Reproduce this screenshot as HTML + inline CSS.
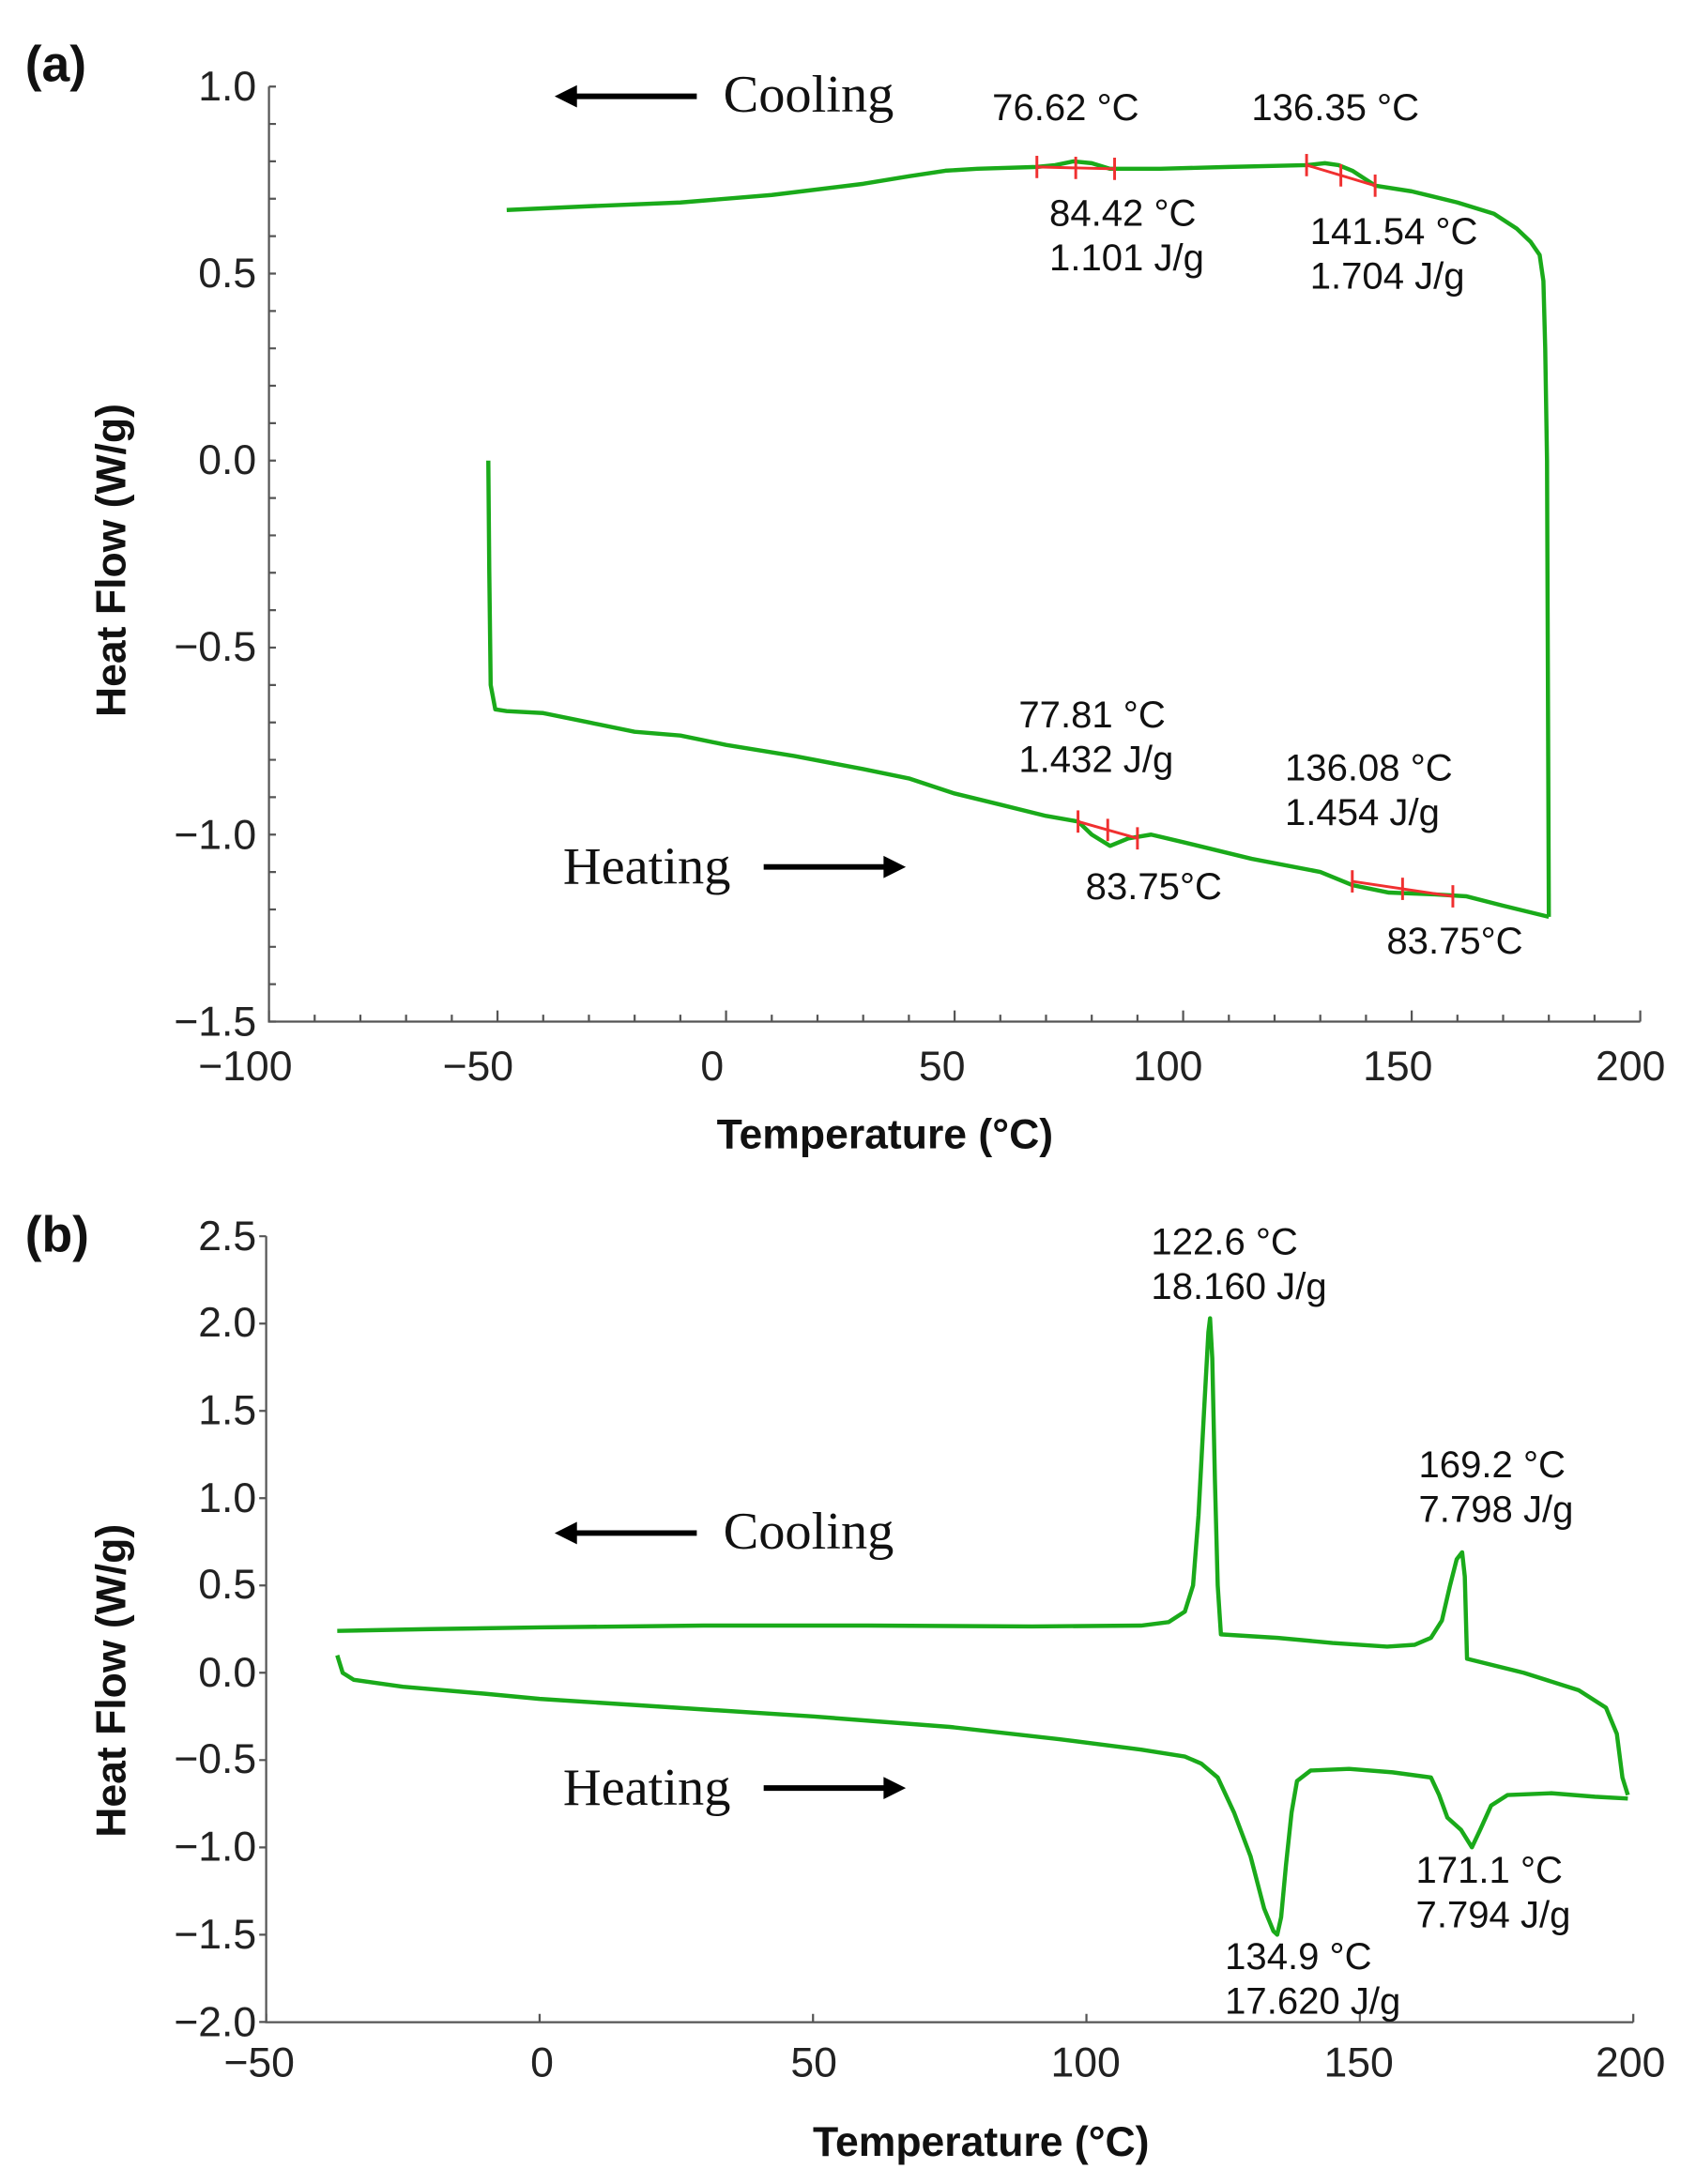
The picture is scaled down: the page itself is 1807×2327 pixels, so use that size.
<!DOCTYPE html>
<html><head><meta charset="utf-8"><style>
html,body{margin:0;padding:0;background:#fff;}
svg{display:block;}
.tk{font-family:"Liberation Sans",sans-serif;font-size:30px;fill:#222;}
.an{font-family:"Liberation Sans",sans-serif;font-size:27px;fill:#111;}
.ser{font-family:"Liberation Serif",serif;font-size:38px;fill:#111;}
.ti{font-family:"Liberation Sans",sans-serif;font-size:30px;font-weight:bold;fill:#111;}
.pl{font-family:"Liberation Sans",sans-serif;font-size:36px;font-weight:bold;fill:#111;}
</style></head><body>
<svg id="s" width="1807" height="2327" viewBox="0 0 1217 1567" xmlns="http://www.w3.org/2000/svg">
<text class="pl" x="18" y="58">(a)</text>
<text class="pl" x="18" y="898">(b)</text>
<g id="axA" stroke="#555" stroke-width="1.5" fill="none"></g>
<g id="axB" stroke="#555" stroke-width="1.5" fill="none"></g>
<g id="cur" fill="none" stroke="#1aaa1a" stroke-width="3" stroke-linejoin="round"></g>
<g id="red" fill="none" stroke="#f03030" stroke-width="2"></g>
<g text-anchor="end" class="tk">
<text x="184" y="72">1.0</text><text x="184" y="206">0.5</text><text x="184" y="340">0.0</text>
<text x="184" y="474">−0.5</text><text x="184" y="609">−1.0</text><text x="184" y="743">−1.5</text>
<text x="184" y="897">2.5</text><text x="184" y="959">2.0</text><text x="184" y="1022">1.5</text>
<text x="184" y="1085">1.0</text><text x="184" y="1147">0.5</text><text x="184" y="1210">0.0</text>
<text x="184" y="1272">−0.5</text><text x="184" y="1335">−1.0</text><text x="184" y="1398">−1.5</text>
<text x="184" y="1461">−2.0</text>
</g>
<g text-anchor="middle" class="tk">
<text x="176" y="775">−100</text><text x="343" y="775">−50</text><text x="511" y="775">0</text>
<text x="676" y="775">50</text><text x="838" y="775">100</text><text x="1003" y="775">150</text><text x="1170" y="775">200</text>
<text x="186" y="1490">−50</text><text x="389" y="1490">0</text><text x="584" y="1490">50</text>
<text x="779" y="1490">100</text><text x="975" y="1490">150</text><text x="1170" y="1490">200</text>
</g>
<text class="ti" x="635" y="824" text-anchor="middle">Temperature (°C)</text>
<text class="ti" x="704" y="1547" text-anchor="middle">Temperature (°C)</text>
<text class="ti" transform="translate(90,402) rotate(-90)" text-anchor="middle">Heat Flow (W/g)</text>
<text class="ti" transform="translate(90,1206) rotate(-90)" text-anchor="middle">Heat Flow (W/g)</text>
<g class="ser">
<text x="519" y="80">Cooling</text><text x="404" y="634">Heating</text>
<text x="519" y="1111">Cooling</text><text x="404" y="1295">Heating</text>
</g>
<g stroke="#000" stroke-width="4">
<line x1="412" y1="69" x2="500" y2="69"/><line x1="548" y1="622" x2="636" y2="622"/>
<line x1="412" y1="1100" x2="500" y2="1100"/><line x1="548" y1="1283" x2="636" y2="1283"/>
</g>
<g fill="#000">
<polygon points="398,69 414,61 414,77"/><polygon points="650,622 634,614 634,630"/>
<polygon points="398,1100 414,1092 414,1108"/><polygon points="650,1283 634,1275 634,1291"/>
</g>
<g class="an">
<text x="712" y="86">76.62 °C</text><text x="898" y="86">136.35 °C</text>
<text x="753" y="162">84.42 °C</text><text x="753" y="194">1.101 J/g</text>
<text x="940" y="175">141.54 °C</text><text x="940" y="207">1.704 J/g</text>
<text x="731" y="522">77.81 °C</text><text x="731" y="554">1.432 J/g</text>
<text x="922" y="560">136.08 °C</text><text x="922" y="592">1.454 J/g</text>
<text x="779" y="645">83.75°C</text><text x="995" y="684">83.75°C</text>
<text x="826" y="900">122.6 °C</text><text x="826" y="932">18.160 J/g</text>
<text x="1018" y="1060">169.2 °C</text><text x="1018" y="1092">7.798 J/g</text>
<text x="1016" y="1351">171.1 °C</text><text x="1016" y="1383">7.794 J/g</text>
<text x="879" y="1413">134.9 °C</text><text x="879" y="1445">17.620 J/g</text>
</g>
</svg>
<script>
var NS="http://www.w3.org/2000/svg";
function el(p,t,a){var e=document.createElementNS(NS,t);for(var k in a)e.setAttribute(k,a[k]);document.getElementById(p).appendChild(e);return e;}
var xa=function(T){return 193+(T+100)*3.28;}, ya=function(v){return 62+(1-v)*268.4;};
var xb=function(T){return 191+(T+50)*3.924;}, yb=function(v){return 887+(2.5-v)*125.3;};
el("axA","path",{d:"M193 62 V733 H1177"});
el("axB","path",{d:"M191 887 V1451 H1172"});
var d="";
for(var v=1;v>=-1.5001;v-=0.1){var y=ya(v);d+="M193 "+y+" h5 ";}
for(var T=-100;T<=200.01;T+=10){var x=xa(T);d+="M"+x+" 733 v-"+((Math.round(T)%50==0)?8:5)+" ";}
el("axA","path",{d:d});
d="";
for(var v=2.5;v>=-2.0001;v-=0.5){d+="M191 "+yb(v)+" h-5 ";}
for(var T=-50;T<=200.01;T+=50){d+="M"+xb(T)+" 1451 v-6 ";}
el("axB","path",{d:d});
function path(pts,fx,fy){var s="";pts.forEach(function(p,i){s+=(i?"L":"M")+fx(p[0]).toFixed(1)+" "+fy(p[1]).toFixed(1)+" ";});return s;}
var coolA=[[-48,0.67],[-30,0.68],[-10,0.69],[10,0.71],[30,0.74],[40,0.76],[48,0.775],[55,0.78],[68,0.785],[72,0.79],[76,0.80],[80,0.795],[84,0.78],[95,0.78],[110,0.785],[127,0.79],[131,0.795],[134,0.79],[137,0.775],[142,0.735],[150,0.72],[160,0.69],[168,0.66],[173,0.62],[176,0.585],[178,0.55],[178.8,0.48],[179.2,0.3],[179.6,0.0],[180,-1.22]];
var heatA=[[-52,0.0],[-51.8,-0.3],[-51.5,-0.6],[-50.5,-0.665],[-48,-0.67],[-40,-0.675],[-30,-0.70],[-20,-0.725],[-10,-0.735],[0,-0.76],[15,-0.79],[30,-0.825],[40,-0.85],[50,-0.89],[60,-0.92],[70,-0.95],[77,-0.965],[80,-1.0],[84,-1.03],[88,-1.01],[93,-1.0],[100,-1.02],[115,-1.065],[130,-1.10],[137,-1.135],[145,-1.155],[155,-1.16],[162,-1.165],[170,-1.19],[180,-1.22]];
var coolB=[[-37,0.24],[-20,0.25],[0,0.26],[30,0.27],[60,0.27],[90,0.265],[110,0.27],[115,0.29],[118,0.35],[119.5,0.5],[120.5,0.9],[121.5,1.5],[122.3,1.95],[122.6,2.03],[123,1.8],[123.5,1.1],[124,0.5],[124.6,0.22],[135,0.2],[145,0.17],[155,0.15],[160,0.16],[163,0.2],[165,0.3],[166.5,0.5],[167.7,0.65],[168.7,0.69],[169.2,0.55],[169.6,0.08],[180,0.0],[190,-0.1],[195,-0.2],[197,-0.35],[198,-0.6],[199,-0.7]];
var heatB=[[-37,0.1],[-36,0.0],[-34,-0.04],[-25,-0.08],[-10,-0.12],[0,-0.15],[25,-0.2],[50,-0.25],[75,-0.31],[95,-0.38],[110,-0.44],[118,-0.48],[121,-0.52],[124,-0.6],[127,-0.8],[130,-1.05],[132.5,-1.35],[134.2,-1.48],[134.9,-1.5],[135.6,-1.4],[136.5,-1.1],[137.5,-0.8],[138.5,-0.62],[141,-0.56],[148,-0.55],[156,-0.57],[163,-0.6],[164.5,-0.7],[166,-0.83],[168.5,-0.9],[170.5,-1.0],[172,-0.9],[174,-0.76],[177,-0.7],[185,-0.69],[193,-0.71],[199,-0.72]];
el("cur","path",{d:path(coolA,xa,ya)});
el("cur","path",{d:path(heatA,xa,ya)});
el("cur","path",{d:path(coolB,xb,yb)});
el("cur","path",{d:path(heatB,xb,yb)});
var r=[[68,0.785,85,0.78],[127,0.79,142,0.735],[77,-0.965,90,-1.01],[137,-1.125,159,-1.165]];
r.forEach(function(a){var x1=xa(a[0]),y1=ya(a[1]),x2=xa(a[2]),y2=ya(a[3]);
el("red","line",{x1:x1,y1:y1,x2:x2,y2:y2});
[0,0.5,1].forEach(function(f){var x=x1+(x2-x1)*f,y=y1+(y2-y1)*f;el("red","line",{x1:x,y1:y-8,x2:x,y2:y+8});});});
</script>
</body></html>
